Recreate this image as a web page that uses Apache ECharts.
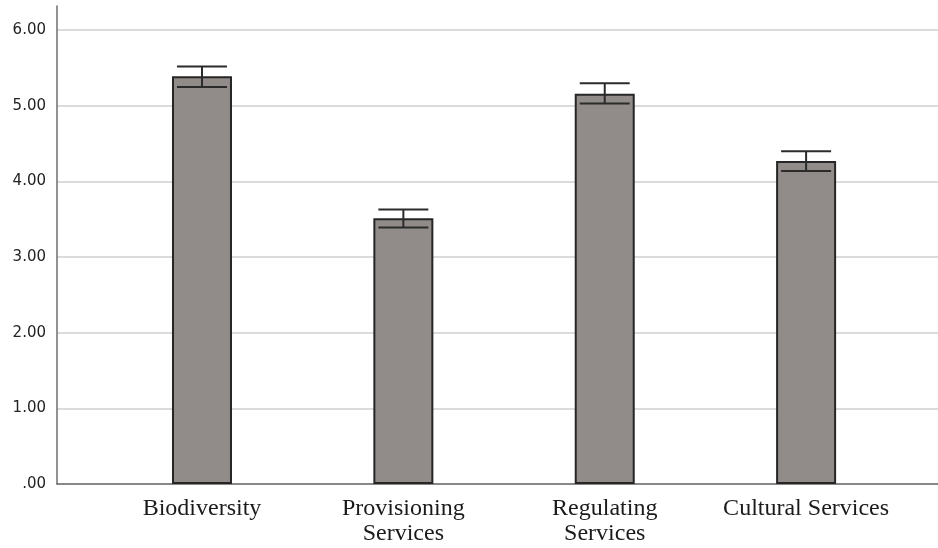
<!DOCTYPE html>
<html>
<head>
<meta charset="utf-8">
<script src="https://cdn.jsdelivr.net/npm/echarts@6/dist/echarts.min.js"></script>
<style>
  html, body { margin: 0; padding: 0; background: #ffffff; }
  #chart { width: 938px; height: 548px; }
</style>
</head>
<body>
<div id="chart"></div>
<script>
// Ecosystem service categories and their mean scores with error-bar bounds
const categories = ['Biodiversity', 'Provisioning\nServices', 'Regulating\nServices', 'Cultural Services'];
const means = [5.39, 3.515, 5.16, 4.27];
const upper = [5.52, 3.63, 5.30, 4.40];
const lower = [5.25, 3.39, 5.03, 4.14];
const yTicks = [0, 1, 2, 3, 4, 5, 6];

const positions = categories.map((_, i) => i);

const chart = echarts.init(document.getElementById('chart'), null, { renderer: 'canvas' });

const axisColor = '#6e6e6e';

chart.setOption({
  animation: false,
  backgroundColor: '#ffffff',
  grid: { left: 57, right: 0, top: 6, bottom: 64, containLabel: false },
  xAxis: {
    type: 'value',
    min: -0.72,
    max: 3.655,
    splitLine: { show: false },
    axisLine: { show: true, onZero: false, lineStyle: { color: axisColor, width: 1.5 } },
    axisTick: { show: false, customValues: positions },
    axisLabel: {
      customValues: positions,
      formatter: v => categories[Math.round(v)] || '',
      fontFamily: 'Liberation Serif',
      fontSize: 24,
      color: '#1a1a1a',
      lineHeight: 25,
      margin: 12,
      align: 'center'
    }
  },
  yAxis: {
    type: 'value',
    min: 0,
    max: 6.32,
    axisLine: { show: true, onZero: false, lineStyle: { color: axisColor, width: 1.5 } },
    axisTick: { show: false, customValues: yTicks },
    splitLine: { show: true, lineStyle: { color: '#cfcfcf', width: 1.5 } },
    axisLabel: {
      customValues: yTicks,
      formatter: v => (v === 0 ? '.00' : v.toFixed(2)),
      fontFamily: 'DejaVu Sans',
      fontSize: 15,
      color: '#222222',
      margin: 11
    }
  },
  series: [
    {
      type: 'bar',
      barWidth: 60,
      data: positions.map((p, i) => [p, means[i]]),
      itemStyle: { color: '#918c8a', borderColor: '#262626', borderWidth: 2 },
      z: 2
    },
    {
      type: 'custom',
      z: 3,
      data: positions.map((p, i) => [p, lower[i], upper[i]]),
      renderItem: (params, api) => {
        const x = api.value(0);
        const lo = api.coord([x, api.value(1)]);
        const hi = api.coord([x, api.value(2)]);
        const half = 25;
        const style = { stroke: '#2b2b2b', lineWidth: 2 };
        return {
          type: 'group',
          children: [
            { type: 'line', shape: { x1: lo[0], y1: lo[1], x2: hi[0], y2: hi[1] }, style },
            { type: 'line', shape: { x1: hi[0] - half, y1: hi[1], x2: hi[0] + half, y2: hi[1] }, style },
            { type: 'line', shape: { x1: lo[0] - half, y1: lo[1], x2: lo[0] + half, y2: lo[1] }, style }
          ]
        };
      }
    }
  ]
});
</script>
</body>
</html>
